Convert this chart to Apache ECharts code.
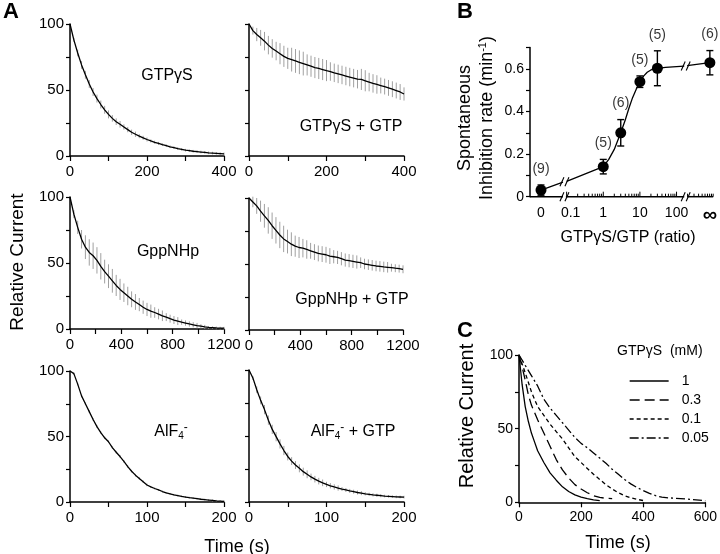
<!DOCTYPE html>
<html><head><meta charset="utf-8">
<script src="https://cdn.jsdelivr.net/npm/echarts@6/dist/echarts.min.js"></script>
<style>html,body{margin:0;padding:0;background:#fff}#c{width:720px;height:554px}</style>
</head><body><div id="c"></div>
<script>
const FONT = '"Liberation Sans", Arial, Helvetica, sans-serif';

// ---------- Panel A data ----------
const time400 = [0,10,20,30,40,50,60,70,80,90,100,110,120,130,140,150,160,170,180,190,200,210,220,230,240,250,260,270,280,290,300,310,320,330,340,350,360,370,380,390,400];
const time1200 = [0,30,60,90,120,150,180,210,240,270,300,330,360,390,420,450,480,510,540,570,600,630,660,690,720,750,780,810,840,870,900,930,960,990,1020,1050,1080,1110,1140,1170,1200];
const time200 = [0,5,10,15,20,25,30,35,40,45,50,55,60,65,70,75,80,85,90,95,100,105,110,115,120,125,130,135,140,145,150,155,160,165,170,175,180,185,190,195,200];

const gtpgsMean = [100,88,78,69,61.5,54.5,48.5,43.5,39,35,31.5,28.5,26,24,22,20,18,16.5,15,13.8,12.5,11.4,10.4,9.5,8.6,7.8,7,6.3,5.6,5,4.4,4,3.6,3.3,3,2.7,2.4,2.2,2,1.8,1.6];
const gtpgsErr  = [0,1.5,2.5,3,3,3,3,3,3,3,3,2.5,2.5,2.5,2,2,2,2,1.5,1.5,1.5,1.2,1.2,1.2,1,1,1,1,1,1,1,1,1,1,1,1,1,1,1,1,1];

const gtpgsGtpMean = [100,95,92,89.5,87,84,81.5,79.5,77.5,75.5,74,73,72,71,70,69,68,67,66.3,65.5,64.7,64,63,62.2,61.4,60.6,59.8,59,58.2,58,57,56,55,54.2,53.4,52.6,51.6,50.6,49.6,48.5,47];
const gtpgsGtpErr  = [0,3,5,6,7,7,7,7,8,8,8,9,9,9,9,8,8,8,8,8,8,7,7,7,7,7,7,7,7,8,8,7,7,7,6,6,6,6,6,6,5];

const gppnhpMean = [100,87,77,68,62,58,55.5,52,47.5,43.5,40,36.5,33,30,27.5,25,22.5,20.5,18.5,16.5,14.8,13.5,12.5,11.3,10,9,7.8,6.8,6,5.2,4.5,3.8,3.2,2.6,2.1,1.6,1.2,1,0.8,0.7,0.6];
const gppnhpErr  = [0,3,5,7,9,10,10,10,10,9,9,9,8,8,7,7,6,6,5,5,5,5,4,4,4,3,3,3,3,2,2,2,2,2,1.5,1.5,1,1,1,1,1];

const gppnhpGtpMean = [100,97,94,90,86.5,83,79,75.5,72,69,67,65,63.5,62.5,62,61,60,59,58,57.5,57,56,55.5,55,54,53,52.5,52,51.5,51,50,49.5,49,48.5,48.2,47.8,47.5,47.2,46.8,46.5,46];
const gppnhpGtpErr  = [0,4,6,8,9,10,10,10,10,10,9,9,8,8,7,7,6,6,6,6,6,6,5,5,5,5,5,5,5,4,4,4,4,4,4,4,4,3,3,3,3];

const alfMean = [100,98,90,81,75,69,63,57.5,53,49,46,41.5,38,34.7,31,27,23.5,20.5,18,15.5,13,11.5,10.3,9.2,8,6.9,6.2,5.5,4.9,4.3,3.8,3.3,2.9,2.5,2.1,1.8,1.5,1.2,0.9,0.7,0.5];
const alfErr  = [0,1,1,1,1,1,1,1,1,1,1,1,1,1,1,1,1,1,1,1,1,0.7,0.7,0.7,0.7,0.7,0.7,0.7,0.7,0.7,0.7,0.7,0.7,0.7,0.7,0.7,0.7,0.7,0.7,0.7,0.7];

const alfGtpMean = [100,94,85,77,70,62,55,49.5,44,39,34.5,31,28,25.5,23,21,19,17.3,15.8,14.5,13.3,12.3,11.4,10.6,9.8,9.1,8.4,7.8,7.2,6.7,6.2,5.8,5.4,5.1,4.8,4.5,4.3,4.1,3.9,3.8,3.7];
const alfGtpErr  = [0,1.5,2.5,3,3.5,3.5,3.5,3.5,3.5,3.5,3,3,3,3,3,3,2.5,2.5,2.5,2.5,2,2,2,2,1.5,1.5,1.5,1.5,1.5,1.5,1.2,1.2,1.2,1.2,1.2,1,1,1,1,1,1];

// ---------- Panel B data ----------
const ratios   = [0, 1, 3, 10, 30, Infinity];
const rates    = [0.031, 0.141, 0.300, 0.540, 0.603, 0.629];
const rateErr  = [0.024, 0.034, 0.062, 0.027, 0.082, 0.057];
const nCells   = [9, 5, 6, 5, 5, 6];
// fitted curve (x in log10(ratio) axis units; null = axis break)
const fitLogRatio = [-1.7, -1.1, null, -1.0, 0, 0.15, 0.3, 0.477, 0.6, 0.7, 0.8, 0.9, 1.0, 1.1, 1.2, 1.3, 1.477, 1.7, 2.0, 2.21, null, 2.29, 2.91];
const fitRate     = [0.031, 0.068, null, 0.072, 0.141, 0.175, 0.222, 0.300, 0.360, 0.415, 0.465, 0.505, 0.540, 0.566, 0.584, 0.595, 0.602, 0.607, 0.611, 0.613, null, 0.615, 0.629];
const ratioTickLabels = ['0', '0.1', '1', '10', '100', '\u221e'];
const ratioTickValues = [0, 0.1, 1, 10, 100, Infinity];

// ---------- Panel C data ----------
const tC1 = [0,5,10,20,30,40,50,60,80,100,120,140,160,180,200,220,240,260];
const vC1 = [100,90,80,65,55,47,41,35,27,20,15,10.5,7.3,5,3.5,2.5,1.7,1.2];
const tC2 = [0,10,20,30,40,60,80,100,120,140,160,180,200,220,240,260,280,300];
const vC2 = [100,92,83,73,66,56,47,38,29,22,16.5,12,9,6.5,4.5,3.3,2.7,2.5];
const tC3 = [0,20,40,60,80,100,120,140,160,180,200,220,240,260,280,300,320,340,360,380,400];
const vC3 = [100,88,75,65,59,53,48,43,37,31,27,23,19,15.5,12,9,6.5,4.5,3,2,1.2];
const tC4 = [0,20,40,60,80,100,120,140,160,180,200,220,240,260,280,300,320,340,360,380,400,420,440,460,480,500,520,540,560,580,600];
const vC4 = [100,93,86,79,70,64,59,54,49,44,40,37,33.5,30,26.5,22.5,19,15.5,12.5,10,8,6,4.5,3.5,3,2.8,2.5,2.2,1.8,1.5,1];
const concNames = ['1', '0.3', '0.1', '0.05'];

// ---------- layout ----------
const ZERO_POS = -1.7, INF_POS = 2.91;
const breaksB = [-1.06, 2.25];
const axisSegB = [[-2, -1.1], [-1.02, 2.21], [2.29, 3]];
function toPos(r){ return r === 0 ? ZERO_POS : (r === Infinity ? INF_POS : Math.log10(r)); }

const panelsA = [
  {grid:{left:70,top:24,width:154,height:132},  t:time400,  v:gtpgsMean,    e:gtpgsErr,    max:400,  int:100, lab:200, yl:true},
  {grid:{left:249,top:24,width:155,height:132}, t:time400,  v:gtpgsGtpMean, e:gtpgsGtpErr, max:400,  int:100, lab:200, yl:false},
  {grid:{left:70,top:197,width:154,height:132}, t:time1200, v:gppnhpMean,   e:gppnhpErr,   max:1200, int:200, lab:400, yl:true},
  {grid:{left:249,top:198,width:154,height:132},t:time1200, v:gppnhpGtpMean,e:gppnhpGtpErr,max:1200, int:200, lab:400, yl:false},
  {grid:{left:70,top:371,width:154,height:131}, t:time200,  v:alfMean,      e:alfErr,      max:200,  int:50,  lab:100, yl:true},
  {grid:{left:249,top:370,width:155,height:132},t:time200,  v:alfGtpMean,   e:alfGtpErr,   max:200,  int:50,  lab:100, yl:false}
];

const axisLineStyle = {color:'#000', width:1.5};
const grids = [], xAxes = [], yAxes = [], series = [];

function errRender(params, api){
  const x = api.value(0), y = api.value(1), e = api.value(2);
  const a = api.coord([x, y - e]), b = api.coord([x, y + e]);
  return {type:'line', shape:{x1:a[0], y1:a[1], x2:b[0], y2:b[1]}, style:{stroke:'#a0a0a0', lineWidth:1}};
}

panelsA.forEach((p, i) => {
  grids.push(p.grid);
  xAxes.push({gridIndex:i, type:'value', min:0, max:p.max, interval:p.int,
    axisLine:{show:true, onZero:false, lineStyle:axisLineStyle},
    axisTick:{show:true, length:5, lineStyle:{color:'#000', width:1.2}},
    axisLabel:{color:'#000', fontSize:15, fontFamily:FONT, margin:8,
      formatter: v => (v % p.lab === 0 ? String(v) : '')},
    splitLine:{show:false}});
  yAxes.push({gridIndex:i, type:'value', min:0, max:100, interval:25,
    axisLine:{show:true, onZero:false, lineStyle:axisLineStyle},
    axisTick:{show:true, length:4, lineStyle:{color:'#000', width:1.2}},
    axisLabel:{show:p.yl, color:'#000', fontSize:15, fontFamily:FONT, margin:6,
      formatter: v => (v % 50 === 0 ? String(v) : '')},
    splitLine:{show:false}});
  series.push({type:'custom', xAxisIndex:i, yAxisIndex:i, renderItem:errRender,
    data:p.t.map((t, k) => [t, p.v[k], p.e[k]]), z:2, silent:true});
  series.push({type:'line', xAxisIndex:i, yAxisIndex:i, showSymbol:false, symbol:'none',
    data:p.t.map((t, k) => [t, p.v[k]]), lineStyle:{color:'#000', width:1.3}, z:3, silent:true});
});

// ---------- Panel B ----------
const gB = 6;
grids.push({left:530, top:47.6, width:185, height:149.1});
xAxes.push({gridIndex:gB, type:'value', min:-2, max:3,
  axisLine:{show:false}, axisTick:{show:false}, splitLine:{show:false},
  axisLabel:{show:true, color:'#000', fontSize:14, fontFamily:FONT, margin:9,
    customValues: ratioTickValues.map(toPos),
    formatter: v => {
      const k = ratioTickValues.map(toPos).findIndex(q => Math.abs(q - v) < 1e-6);
      if (k < 0) return '';
      if (ratioTickValues[k] === Infinity) return '{inf|' + ratioTickLabels[k] + '}';
      if (ratioTickValues[k] === 0.1) return '{pt|' + ratioTickLabels[k] + '}';
      return ratioTickLabels[k];
    },
    rich:{inf:{fontSize:20, fontFamily:FONT, color:'#000', fontWeight:'bold', padding:[0,0,9,0]},
          pt:{fontSize:14, fontFamily:FONT, color:'#000', padding:[0,0,0,8]}}}});
yAxes.push({gridIndex:gB, type:'value', min:0, max:0.7, interval:0.1,
  axisLine:{show:true, onZero:false, lineStyle:axisLineStyle},
  axisTick:{show:true, length:4, lineStyle:{color:'#000', width:1.2}},
  axisLabel:{color:'#000', fontSize:14, fontFamily:FONT, margin:6,
    formatter: v => { const k = Math.round(v*10); return k % 2 === 0 ? (k === 0 ? '0' : (k/10).toFixed(1)) : ''; }},
  splitLine:{show:false}});

// broken x axis line
series.push({type:'custom', xAxisIndex:gB, yAxisIndex:gB, silent:true, z:3,
  data: axisSegB,
  renderItem:(params, api) => {
    const a = api.coord([api.value(0), 0]), b = api.coord([api.value(1), 0]);
    return {type:'line', shape:{x1:a[0], y1:a[1], x2:b[0], y2:b[1]}, style:{stroke:'#000', lineWidth:1.5}};
  }});
// log ticks on x axis
const majorTicksB = [0.1, 1, 10, 100].map(toPos);
const minorTicksB = [];
[0.1, 1, 10, 100].forEach(d => { for (let k = 2; k <= 9; k++) minorTicksB.push(Math.log10(d * k)); });
minorTicksB.push(3);
series.push({type:'custom', xAxisIndex:gB, yAxisIndex:gB, silent:true, z:3,
  data: majorTicksB.map(u => [u, 5]).concat(minorTicksB.map(u => [u, 3])),
  renderItem:(params, api) => {
    const a = api.coord([api.value(0), 0]);
    return {type:'line', shape:{x1:a[0], y1:a[1], x2:a[0], y2:a[1] - api.value(1)}, style:{stroke:'#000', lineWidth:1}};
  }});
// break marks on axis and curve
const breakMarks = [[breaksB[0], 0], [breaksB[1], 0], [breaksB[0], 0.070], [breaksB[1], 0.614]];
series.push({type:'custom', xAxisIndex:gB, yAxisIndex:gB, silent:true, z:4,
  data: breakMarks,
  renderItem:(params, api) => {
    const c = api.coord([api.value(0), api.value(1)]);
    const s = {stroke:'#000', lineWidth:1.1};
    return {type:'group', children:[
      {type:'line', shape:{x1:c[0]-4.5, y1:c[1]+4.5, x2:c[0]-0.5, y2:c[1]-4.5}, style:s},
      {type:'line', shape:{x1:c[0]+0.5, y1:c[1]+4.5, x2:c[0]+4.5, y2:c[1]-4.5}, style:s}
    ]};
  }});
// fit curve
series.push({type:'line', xAxisIndex:gB, yAxisIndex:gB, showSymbol:false, symbol:'none', silent:true,
  connectNulls:false, clip:false, z:3,
  data: fitLogRatio.map((u, k) => u === null ? ['-', '-'] : [u, fitRate[k]]),
  lineStyle:{color:'#000', width:1.3}});
// error bars with caps
series.push({type:'custom', xAxisIndex:gB, yAxisIndex:gB, silent:true, z:4,
  data: ratios.map((r, k) => [toPos(r), rates[k], rateErr[k]]),
  renderItem:(params, api) => {
    const x = api.value(0), y = api.value(1), e = api.value(2);
    const t = api.coord([x, y + e]), b = api.coord([x, y - e]);
    const w = 3.5, s = {stroke:'#000', lineWidth:1.4};
    return {type:'group', children:[
      {type:'line', shape:{x1:t[0], y1:t[1], x2:b[0], y2:b[1]}, style:s},
      {type:'line', shape:{x1:t[0]-w, y1:t[1], x2:t[0]+w, y2:t[1]}, style:s},
      {type:'line', shape:{x1:b[0]-w, y1:b[1], x2:b[0]+w, y2:b[1]}, style:s}
    ]};
  }});
series.push({type:'scatter', xAxisIndex:gB, yAxisIndex:gB, silent:true, z:5,
  symbol:'circle', symbolSize:11, itemStyle:{color:'#000', opacity:1},
  data: ratios.map((r, k) => [toPos(r), rates[k]])});
// (n) labels
series.push({type:'scatter', xAxisIndex:gB, yAxisIndex:gB, silent:true, z:5,
  symbolSize:0, itemStyle:{color:'transparent'},
  data: ratios.map((r, k) => ({value:[toPos(r), rates[k] + rateErr[k]], n:nCells[k]})),
  label:{show:true, position:'top', distance:9, color:'#000', fontSize:14, fontFamily:FONT,
    formatter: p => '(' + p.data.n + ')'}});

// ---------- Panel C ----------
const gC = 7;
grids.push({left:519, top:355, width:190, height:147.3});
xAxes.push({gridIndex:gC, type:'value', min:0, max:600, interval:200,
  axisLine:{show:true, onZero:false, lineStyle:axisLineStyle},
  axisTick:{show:true, length:5, lineStyle:{color:'#000', width:1.2}},
  axisLabel:{color:'#000', fontSize:14, fontFamily:FONT, margin:8},
  splitLine:{show:false}});
yAxes.push({gridIndex:gC, type:'value', min:0, max:100, interval:25,
  axisLine:{show:true, onZero:false, lineStyle:axisLineStyle},
  axisTick:{show:true, length:4, lineStyle:{color:'#000', width:1.2}},
  axisLabel:{color:'#000', fontSize:14, fontFamily:FONT, margin:6,
    formatter: v => (v % 50 === 0 ? String(v) : '')},
  splitLine:{show:false}});
const cT = [tC1, tC2, tC3, tC4], cV = [vC1, vC2, vC3, vC4];
const cDash = ['solid', [10, 5], [4, 3], [9, 3, 2, 3]];
concNames.forEach((nm, k) => {
  series.push({type:'line', name:nm, xAxisIndex:gC, yAxisIndex:gC, showSymbol:false, symbol:'none', silent:true,
    data: cT[k].map((t, j) => [t, cV[k][j]]),
    lineStyle:{color:'#000', width:1.3, type:cDash[k]}, itemStyle:{color:'#000', opacity:0}});
});

// ---------- texts ----------
function txt(x, y, text, size, opts){
  opts = opts || {};
  return {type:'text', x:x, y:y, rotation:opts.rot || 0, silent:true,
    style:{text:text, fill:'#000', font:(opts.bold ? 'bold ' : '') + size + 'px ' + FONT,
      fontSize:size, fontFamily:FONT, fontWeight:opts.bold ? 'bold' : 'normal',
      align:opts.align || 'center', verticalAlign:'middle',
      textAlign:opts.align || 'center', textVerticalAlign:'middle', rich:opts.rich}};
}
const richA = {m:{fontSize:16, fontFamily:FONT, color:'#000'},
  sub:{fontSize:10, fontFamily:FONT, color:'#000', padding:[9,0,0,0]},
  sup:{fontSize:12, fontFamily:FONT, color:'#000', padding:[0,0,9,0]}};
const graphics = [
  txt(11, 12, 'A', 22, {bold:true}),
  txt(465, 12, 'B', 22, {bold:true}),
  txt(465, 331, 'C', 22, {bold:true}),
  txt(167, 76, 'GTP\u03b3S', 16),
  txt(351, 127, 'GTP\u03b3S + GTP', 16),
  txt(168, 252, 'GppNHp', 16),
  txt(352, 300, 'GppNHp + GTP', 16),
  txt(171, 432, '{m|AlF}{sub|4}{sup|-}', 16, {rich:richA}),
  txt(353, 432, '{m|AlF}{sub|4}{sup|-}{m| + GTP}', 16, {rich:richA}),
  txt(18, 262, 'Relative Current', 19, {rot:Math.PI/2}),
  txt(237, 547, 'Time (s)', 18),
  txt(476, 118, '{a|Spontaneous}\n{a|Inhibition rate (min}{s|-1}{a|)}', 18, {rot:Math.PI/2,
    rich:{a:{fontSize:18, fontFamily:FONT, color:'#000', lineHeight:22},
          s:{fontSize:11, fontFamily:FONT, color:'#000', padding:[0,0,9,0]}}}),
  txt(628, 238, 'GTP\u03b3S/GTP (ratio)', 16),
  txt(467, 416, 'Relative Current', 20, {rot:Math.PI/2}),
  txt(618, 543, 'Time (s)', 18),
  txt(617, 351, 'GTP\u03b3S  (mM)', 14, {align:'left'})
];

const chart = echarts.init(document.getElementById('c'), null, {renderer:'canvas'});
chart.setOption({
  animation:false,
  backgroundColor:'#fff',
  textStyle:{fontFamily:FONT},
  grid:grids, xAxis:xAxes, yAxis:yAxes, series:series,
  legend:{data:concNames, orient:'vertical', left:624, top:369, itemWidth:39, itemHeight:14, itemGap:5,
    selectedMode:false, itemStyle:{opacity:0}, lineStyle:{color:'#000', width:1.3},
    textStyle:{color:'#000', fontSize:14, fontFamily:FONT, padding:[0,0,0,8]}},
  graphic:graphics
});
</script></body></html>
